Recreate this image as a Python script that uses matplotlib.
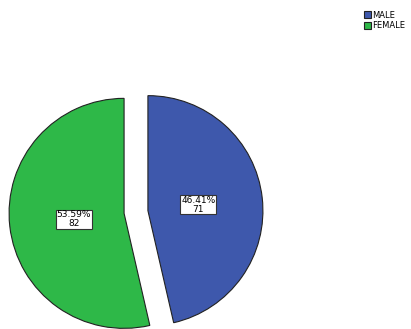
import matplotlib.pyplot as plt
from matplotlib.patches import Patch

categories = ['MALE', 'FEMALE']
counts = [71, 82]
colors = ['#3e58ac', '#2eb848']

fig = plt.figure(figsize=(4.11, 3.29), dpi=100)
ax = fig.add_axes([0, 0, 1, 1])

total = sum(counts)


def fmt(pct):
    n = int(round(pct * total / 100.0))
    return f'{pct:.2f}%\n{n}'


# explode is in data units here (pixels), not a fraction of the radius
wedges, texts, autotexts = ax.pie(
    counts, colors=colors, startangle=90, counterclock=False,
    center=(136, 117), radius=115, explode=[12, 12],
    autopct=fmt, pctdistance=0.44,
    wedgeprops=dict(edgecolor='#222222', linewidth=0.8),
    textprops=dict(fontsize=6.5, color='black', linespacing=0.9),
    frame=True)
ax.set_xlim(0, 411)
ax.set_ylim(0, 329)
ax.set_aspect('equal')
ax.axis('off')

for t in autotexts:
    t.set_ha('center')
    t.set_va('center')
    t.set_bbox(dict(boxstyle='square,pad=0.1', facecolor='white',
                    edgecolor='#333333', linewidth=0.8))

handles = [Patch(facecolor=c, edgecolor='#222222', linewidth=0.8) for c in colors]
fig.legend(handles, categories, loc='upper right', bbox_to_anchor=(1.0, 0.985),
           frameon=False, fontsize=6, handlelength=0.9, handleheight=0.9,
           handletextpad=0.1, labelspacing=0.15, borderpad=0.2)

fig.savefig('out.png', dpi=100)
